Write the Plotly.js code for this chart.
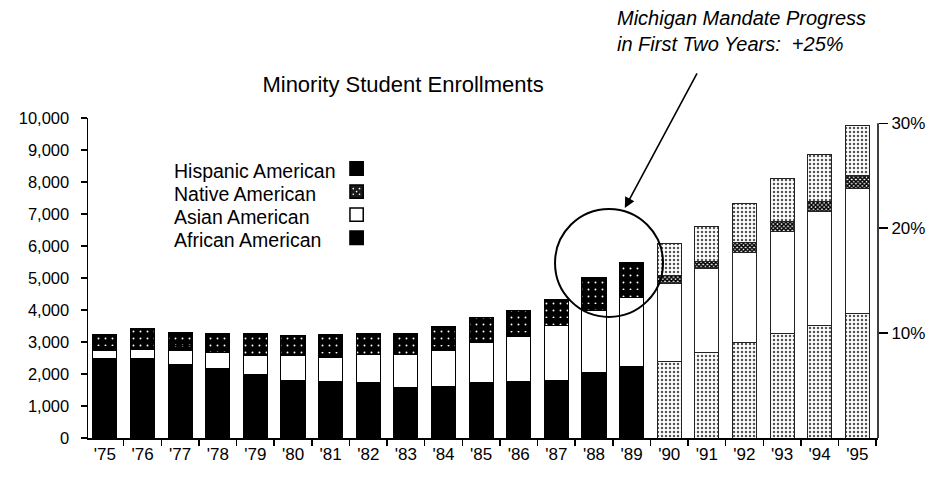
<!DOCTYPE html>
<html>
<head>
<meta charset="utf-8">
<script src="https://cdn.plot.ly/plotly-3.0.1.min.js"></script>
<style>
  html, body { margin: 0; padding: 0; background: #fff; }
  #chart { width: 947px; height: 482px; }
</style>
</head>
<body>
<div id="chart"></div>
<script>
// ---- data ----
const years = ["'75","'76","'77","'78","'79","'80","'81","'82","'83","'84","'85","'86","'87","'88","'89","'90","'91","'92","'93","'94","'95"];
const projectedYears = ["'90","'91","'92","'93","'94","'95"];
const africanAmerican = [2470,2500,2310,2160,1970,1810,1780,1720,1590,1620,1720,1780,1810,2060,2220,2380,2660,2970,3280,3530,3880];
const asianAmerican   = [250,280,410,500,620,780,750,900,1030,1130,1250,1380,1720,1910,2160,2460,2650,2840,3160,3560,3930];
const nativeAmerican  = [150,160,160,160,170,160,170,170,170,180,190,190,190,210,220,250,220,310,340,310,380];
const hispanicAmerican= [380,470,430,460,520,440,520,490,490,570,620,620,620,850,900,1000,1090,1220,1340,1470,1590];
const legendLabels = ["Hispanic American","Native American","Asian American","African American"];
const pctTickVals = [10,20,30];
const pctTickText = ["10%","20%","30%"];
const titleText = "Minority Student Enrollments";
const noteText = "Michigan Mandate Progress<br>in First Two Years:  +25%";

// ---- styles ----
const FONT = "Liberation Sans, Arial, Helvetica, sans-serif";
const isProj = years.map(y => projectedYears.includes(y));
const onlyHist = a => a.map((v, i) => isProj[i] ? null : v);
const onlyProj = a => a.map((v, i) => isProj[i] ? v : null);

const solidBlack = { color: 'black' };
const solidWhite = { color: 'white' };
const darkDots = { color: 'black', pattern: { shape: '.', fgcolor: 'white', bgcolor: 'black', size: 7, solidity: 0.06, fillmode: 'replace' } };
const stipple = { color: 'white', pattern: { shape: '.', fgcolor: '#555', bgcolor: 'white', size: 4, solidity: 0.3, fillmode: 'replace' } };
const hatch = { color: 'white', pattern: { shape: 'x', fgcolor: '#000', bgcolor: 'white', size: 3, solidity: 0.75, fillmode: 'replace' } };

function bar(name, vals, style, lineColor) {
  return {
    type: 'bar', name: name, x: years, y: vals,
    marker: Object.assign({}, style, { line: { color: lineColor, width: 1 } }),
    hoverinfo: 'x+y+name'
  };
}

const traces = [
  bar(legendLabels[3], onlyHist(africanAmerican), solidBlack, 'black'),
  bar(legendLabels[3], onlyProj(africanAmerican), stipple, '#222'),
  bar(legendLabels[2], onlyHist(asianAmerican), solidWhite, 'black'),
  bar(legendLabels[2], onlyProj(asianAmerican), solidWhite, '#222'),
  bar(legendLabels[1], onlyHist(nativeAmerican), darkDots, 'black'),
  bar(legendLabels[1], onlyProj(nativeAmerican), hatch, '#222'),
  bar(legendLabels[0], onlyHist(hispanicAmerican), darkDots, 'black'),
  bar(legendLabels[0], onlyProj(hispanicAmerican), stipple, '#222'),
  { type: 'scatter', x: [], y: [], yaxis: 'y2', hoverinfo: 'skip', showlegend: false }
];

// ---- hand-drawn legend (text left, swatch right) ----
const legTop = 0.834, legStep = 0.072;
const legX = 0.1063, swX0 = 0.3316, swX1 = 0.3484;
const annotations = legendLabels.map((t, i) => ({
  xref: 'paper', yref: 'paper', x: legX, y: legTop - i * legStep,
  xanchor: 'left', yanchor: 'middle', text: t, showarrow: false,
  font: { family: FONT, size: 19.5, color: 'black' }
}));
const swFill = ['black', '#1a1a1a', 'white', 'black'];
const shapes = [];
legendLabels.forEach((t, i) => {
  const yc = legTop - i * legStep + 0.008;
  shapes.push({ type: 'rect', xref: 'paper', yref: 'paper', x0: swX0, x1: swX1,
    y0: yc - 0.021, y1: yc + 0.021, fillcolor: swFill[i], line: { color: 'black', width: 1.5 } });
  if (i === 1) {
    [[0.25,0.3],[0.72,0.3],[0.5,0.5],[0.25,0.72],[0.72,0.72]].forEach(([fx, fy]) => {
      const cx = swX0 + (swX1 - swX0) * fx, cy = yc - 0.021 + 0.042 * fy;
      shapes.push({ type: 'circle', xref: 'paper', yref: 'paper',
        x0: cx - 0.0011, x1: cx + 0.0011, y0: cy - 0.0026, y1: cy + 0.0026,
        fillcolor: 'white', line: { width: 0 } });
    });
  }
});

// right axis line (only up to 30%)
shapes.push({ type: 'line', xref: 'paper', x0: 1, x1: 1, yref: 'y2', y0: 0, y1: 30,
  line: { color: 'black', width: 1.5 } });

// circle around '88-'89
shapes.push({ type: 'circle', xref: 'x', yref: 'y', xsizemode: 'pixel', ysizemode: 'pixel',
  xanchor: 13.4, yanchor: 5470, x0: -54, x1: 54, y0: -54, y1: 54,
  line: { color: 'black', width: 2 } });

// note + arrow
annotations.push({
  xref: 'paper', yref: 'paper', x: 0.667, y: 1.352, xanchor: 'left', yanchor: 'top',
  align: 'left', showarrow: false, text: noteText,
  font: { family: FONT, size: 20, color: 'black', style: 'italic' }
});
annotations.push({
  xref: 'x', yref: 'y', x: 13.82, y: 7190, text: '', showarrow: true,
  ax: 73, ay: -136, arrowhead: 2, arrowsize: 1.3, arrowwidth: 1.6, arrowcolor: 'black',
  standoff: 0
});

const layout = {
  width: 947, height: 482,
  margin: { l: 88, r: 69, t: 118, b: 44 },
  paper_bgcolor: 'white', plot_bgcolor: 'white',
  barmode: 'stack', bargap: 0.36,
  showlegend: false,
  font: { family: FONT, color: 'black', size: 16 },
  title: { text: titleText, x: 0.4256, xanchor: 'center', xref: 'container',
           y: 1 - 84 / 482, yanchor: 'middle', font: { family: FONT, size: 22, color: 'black' } },
  xaxis: {
    type: 'category', range: [-0.45, 20.55], tickson: 'boundaries',
    ticks: 'outside', ticklen: 6, tickcolor: 'black', tickwidth: 1.5,
    showline: true, linecolor: 'black', linewidth: 1.5,
    showgrid: false, zeroline: false, tickfont: { size: 17 }, fixedrange: true
  },
  yaxis: {
    range: [0, 10000], dtick: 1000, tickformat: ',d',
    ticks: 'outside', ticklen: 6, tickcolor: 'black', tickwidth: 1.5,
    showline: true, linecolor: 'black', linewidth: 1.5,
    showgrid: false, zeroline: false, tickfont: { size: 16.5 }, ticklabelstandoff: 8,
    fixedrange: true
  },
  yaxis2: {
    overlaying: 'y', side: 'right', range: [0, 30.5],
    tickvals: pctTickVals, ticktext: pctTickText,
    ticks: 'outside', ticklen: 9, tickcolor: 'black', tickwidth: 1.5,
    showline: false, showgrid: false, zeroline: false, tickfont: { size: 17 },
    fixedrange: true
  },
  annotations: annotations,
  shapes: shapes
};

Plotly.newPlot('chart', traces, layout, { displayModeBar: false, staticPlot: true });
</script>
</body>
</html>
